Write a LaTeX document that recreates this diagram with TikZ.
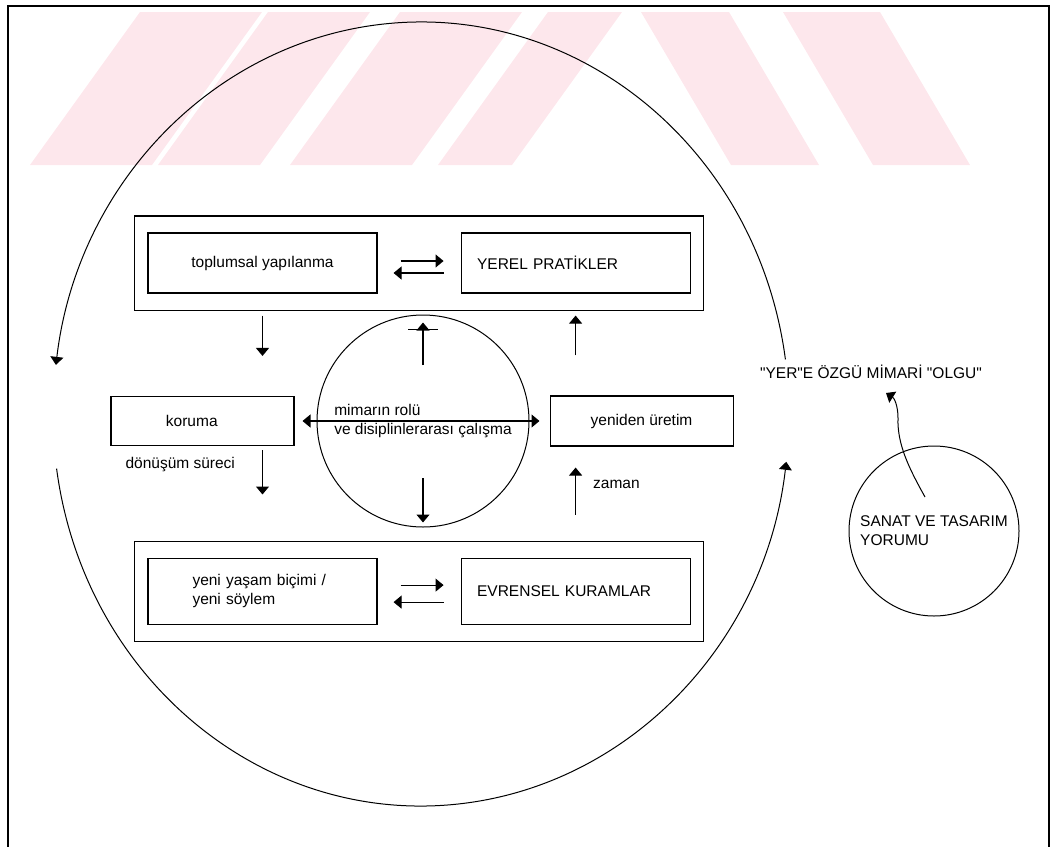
\documentclass[tikz,border=0pt]{standalone}
\usepackage{fontspec}
\setmainfont{Liberation Sans}[Ligatures=TeXOff]
\usetikzlibrary{arrows.meta,positioning,fit}

\definecolor{wmpink}{RGB}{253,231,236}

\begin{document}
\begin{tikzpicture}[
  x=1pt, y=1pt,
  font=\fontsize{15.5}{19}\selectfont,
  node distance=20pt and 83pt,
  >={Triangle[length=8pt, width=13pt]},
  box/.style={draw, line width=1.1pt, minimum width=229pt, minimum height=60pt,
              inner sep=0pt, align=center},
  lbox/.style={box, text width=197pt, align=left},
  grp/.style={draw, line width=1.1pt, inner xsep=13pt, inner ysep=16.5pt},
  ring/.style={circle, draw, line width=1pt, inner sep=0pt, align=left},
  arr/.style={->, line width=1.1pt},
  lbl/.style={inner sep=0pt},
]
\useasboundingbox (0,0) rectangle (1054,-846);

% faint watermark bands
\fill[wmpink] (30,-165) -- (152,-165) -- (262,-12) -- (140,-12) -- cycle;
\fill[wmpink] (158,-165) -- (260,-165) -- (370,-12) -- (268,-12) -- cycle;
\fill[wmpink] (290,-165) -- (412,-165) -- (522,-12) -- (400,-12) -- cycle;
\fill[wmpink] (438,-165) -- (512,-165) -- (622,-12) -- (548,-12) -- cycle;
\fill[wmpink] (731,-165) -- (819,-165) -- (729,-12) -- (641,-12) -- cycle;
\fill[wmpink] (873,-165) -- (970,-165) -- (880,-12) -- (783,-12) -- cycle;

% frame
\draw[line width=1.2pt] (8,-870) -- (8,-6) -- (1049,-6) -- (1049,-870);

% big cycle
\coordinate (ellc) at (421,-414);
\draw[arr, line width=1pt] ([shift={(8:368pt and 392pt)}]ellc)
  arc[start angle=8, end angle=172.8, x radius=368pt, y radius=392pt];
\draw[arr, line width=1pt] ([shift={(188:368pt and 392pt)}]ellc)
  arc[start angle=188, end angle=353, x radius=368pt, y radius=392pt];

% centre
\node[ring, minimum size=212pt] (mid) at (423,-421) {mimarın rolü\\ve disiplinlerarası çalışma};
\node[box, minimum width=183pt, minimum height=49pt, text width=73pt, align=left,
      left=22pt of mid] (koruma) {koruma};
\node[box, minimum width=183pt, minimum height=50pt, right=20pt of mid] (yeniden) {yeniden üretim};

% upper and lower groups
\node[box] (tops) at (262.5,-263) {toplumsal yapılanma};
\node[lbox, right=of tops] (yerel) {YEREL PRATİKLER};
\node[box, text width=140pt, align=left, minimum height=66pt, below=264pt of tops] (yeni)
  {yeni yaşam biçimi /\\yeni söylem};
\node[lbox, minimum height=66pt, right=of yeni] (evren) {EVRENSEL KURAMLAR};
\node[grp, fit=(tops)(yerel)] (topgrp) {};
\node[grp, fit=(yeni)(evren)] (botgrp) {};

\draw[arr, shorten <=23pt, shorten >=17pt] ([yshift=2pt]tops.east) -- ([yshift=2pt]yerel.west);
\draw[arr, shorten <=17pt, shorten >=16pt] ([yshift=-10pt]yerel.west) -- ([yshift=-10pt]tops.east);
\draw[arr, shorten <=23pt, shorten >=17pt] ([yshift=6pt]yeni.east) -- ([yshift=6pt]evren.west);
\draw[arr, shorten <=17pt, shorten >=16pt] ([yshift=-11pt]evren.west) -- ([yshift=-11pt]yeni.east);

\draw[arr, shorten <=5pt, shorten >=40pt] (tops.south |- topgrp.south) -- (tops.south |- koruma.north);
\draw[arr, shorten <=4pt, shorten >=46pt] (tops.south |- koruma.south) -- (tops.south |- botgrp.north)
  node[lbl, pos=0.2, left=27pt] {dönüşüm süreci};
\draw[arr, shorten <=40pt, shorten >=5pt] (yerel.south |- yeniden.north) -- (yerel.south |- topgrp.south);
\draw[arr, shorten <=26pt, shorten >=21pt] (yerel.south |- botgrp.north) -- (yerel.south |- yeniden.south)
  node[lbl, pos=0.6, right=17pt] {zaman};

\draw[arr, shorten <=56pt, shorten >=8pt] (mid.center) -- (mid.north);
\draw[line width=1pt] ([xshift=-15pt, yshift=-15pt]mid.north) -- ([xshift=15pt, yshift=-15pt]mid.north);
\draw[arr, shorten <=57pt, shorten >=5pt] (mid.center) -- (mid.south);
\draw[<->, line width=1.1pt, shorten <=8pt, shorten >=10pt] (koruma.east) -- (yeniden.west);

% art and design
\node[lbl] (olgu) at (871,-372) {"YER"E ÖZGÜ MİMARİ "OLGU"};
\node[ring, minimum size=170pt] (sanat) at (934,-531) {SANAT VE TASARIM\\YORUMU};
\coordinate (w0) at (925,-497);
\coordinate (w1) at (886,-393);
\draw[arr, line width=1pt] (w0) .. controls (910,-470) and (897,-445) .. (898,-418)
  .. controls (898,-405) and (894,-398) .. (w1);
\end{tikzpicture}
\end{document}
